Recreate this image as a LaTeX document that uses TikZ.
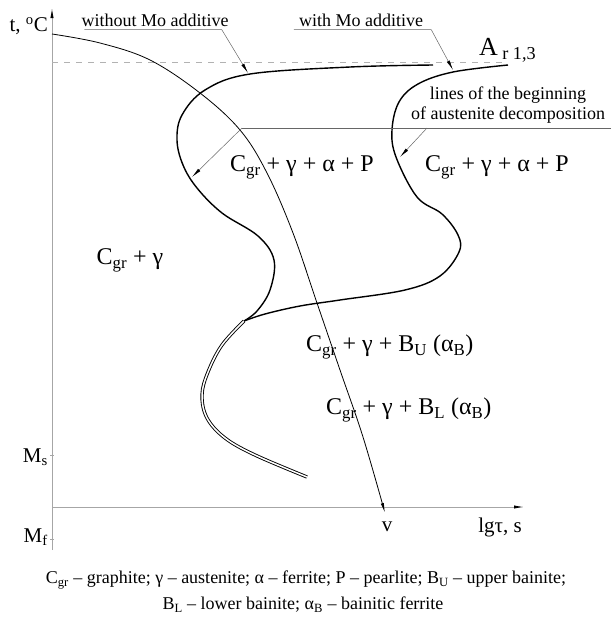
\documentclass[tikz,border=0pt]{standalone}
\usepackage{fontspec}
\setmainfont{Liberation Serif}
\usetikzlibrary{arrows.meta}
\newcommand{\indice}[1]{\textsubscript{#1}}
\begin{document}
\begin{tikzpicture}[x=1pt,y=-1pt]
	% Styles (MODIFIABLES)
	\tikzstyle{axe}=[gray!70,line width=0.8pt]
	\tikzstyle{pointe}=[-{Latex[length=10pt,width=3.2pt,color=black]}]
	\tikzstyle{courbe}=[line width=1.4pt]
	\tikzstyle{bande}=[double=white,double distance=1.5pt,line width=0.9pt]
	\tikzstyle{refroid}=[line width=0.8pt]
	\tikzstyle{renvoi}=[black!60,line width=0.5pt]
	\tikzstyle{commentaire}=[inner sep=0pt,font=\fontsize{18}{20}\selectfont]
	\tikzstyle{axelabel}=[inner sep=0pt,font=\fontsize{21}{24}\selectfont]
	\tikzstyle{domaine}=[inner sep=0pt,font=\fontsize{24}{26}\selectfont]
	\tikzstyle{legende}=[inner sep=0pt,font=\fontsize{18}{25}\selectfont]
	% Dimensions (MODIFIABLES)
	\def\Xo{52}
	\def\Yo{507}
	\def\YAr{62}
	\useasboundingbox (0,0) rectangle (611,619);
	% Axes
	\coordinate (O) at (\Xo,\Yo);
	\coordinate (Thaut) at (\Xo,8);
	\coordinate (Tbas) at (\Xo,550);
	\coordinate (Xfin) at (524,\Yo);
	\draw[axe,pointe] (Tbas) -- (Thaut);
	\draw[axe,pointe] (O) -- (Xfin);
	\coordinate (TickMs) at (\Xo,455);
	\coordinate (TickMf) at (\Xo,539);
	\draw[axe] ([xshift=-2pt]TickMs) -- ([xshift=2pt]TickMs);
	\draw[axe] ([xshift=-2pt]TickMf) -- ([xshift=2pt]TickMf);
	\node[axelabel,anchor=east] (T) at (48,26) {t, \textsuperscript{o}C};
	\node[axelabel,anchor=east] (Ms) at (48,457) {M\indice{s}};
	\node[axelabel,anchor=east] (Mf) at (48,537) {M\indice{f}};
	\node[axelabel] (Lg) at (500,527) {lgτ, s};
	% Ar 1,3
	\coordinate (ArG) at (\Xo,\YAr);
	\coordinate (ArD) at (506,\YAr);
	\draw[axe,gray!60,dash pattern=on 6pt off 6pt] (ArG) -- (ArD);
	\node[inner sep=0pt,anchor=west,font=\fontsize{26}{28}\selectfont] (Ar) at (479,50) {A\,\textsubscript{r 1,3}};
	% Courbes de debut de decomposition
	\draw[bande] plot[smooth,tension=0.6] coordinates {(244,321) (222,345) (208,372) (202,395) (207,418) (225,438) (255,455) (307,477)};
	\draw[courbe] plot[smooth,tension=0.6] coordinates {(433,65) (350,67) (250,74) (205,90) (182,115) (177,140) (183,165) (197,188) (222,213) (258,236) (274,260) (270,290) (257,311) (244,321)};
	\draw[courbe] plot[smooth,tension=0.6] coordinates {(508,65) (453,72) (418,84) (399,102) (392,130) (396,157) (417,197) (442,214) (458,235) (459,252) (440,276) (405,290) (340,300) (300,306) (265,314) (244,321)};
	% Courbe de refroidissement
	\draw[refroid,pointe] plot[smooth,tension=0.6] coordinates {(52,34) (100,43) (150,60) (200,93) (240,130) (267,173) (293,233) (317,303) (340,370) (363,437) (385,513)};
	\node[axelabel] (V) at (387,527) {v};
	% Renvois
	\coordinate (PtSans) at (248,73);
	\coordinate (PtAvec) at (453,70);
	\coordinate (PtDebA) at (192,177);
	\coordinate (PtDebB) at (400,157);
	\node[commentaire] (SansMo) at (155,20) {without Mo additive};
	\node[commentaire] (AvecMo) at (361,20) {with Mo additive};
	\node[commentaire,align=center] (Debut) at (508,105) {lines of the beginning\\of austenite decomposition};
	\draw[renvoi,pointe] ([shift={(3pt,-3pt)}]SansMo.south west) -- ([shift={(-7pt,-3pt)}]SansMo.south east) -- (PtSans);
	\draw[renvoi,pointe] ([shift={(-5pt,-3pt)}]AvecMo.south west) -- ([shift={(8pt,-3pt)}]AvecMo.south east) -- (PtAvec);
	\coordinate (DebG) at (242,128);
	\coordinate (DebM) at (427,128);
	\coordinate (DebD) at (611,128);
	\draw[renvoi] (DebD) -- (DebG);
	\draw[renvoi,pointe] (DebG) -- (PtDebA);
	\draw[renvoi,pointe] (DebM) -- (PtDebB);
	% Domaines
	\node[domaine] (D1) at (302,167) {C\indice{gr} + γ + α + P};
	\node[domaine] (D2) at (497,167) {C\indice{gr} + γ + α + P};
	\node[domaine] (D3) at (130,260) {C\indice{gr} + γ};
	\node[domaine,anchor=west] (D4) at (306,347) {C\indice{gr} + γ + B\indice{U} (α\indice{B})};
	\node[domaine,anchor=west] (D5) at (326,410) {C\indice{gr} + γ + B\indice{L} (α\indice{B})};
	% Legende
	\node[legende] (L1) at (306,580) {C\indice{gr} – graphite; γ – austenite; α – ferrite; P – pearlite; B\indice{U} – upper bainite;};
	\node[legende] (L2) at (303,605) {B\indice{L} – lower bainite; α\indice{B} – bainitic ferrite};
\end{tikzpicture}
\end{document}
